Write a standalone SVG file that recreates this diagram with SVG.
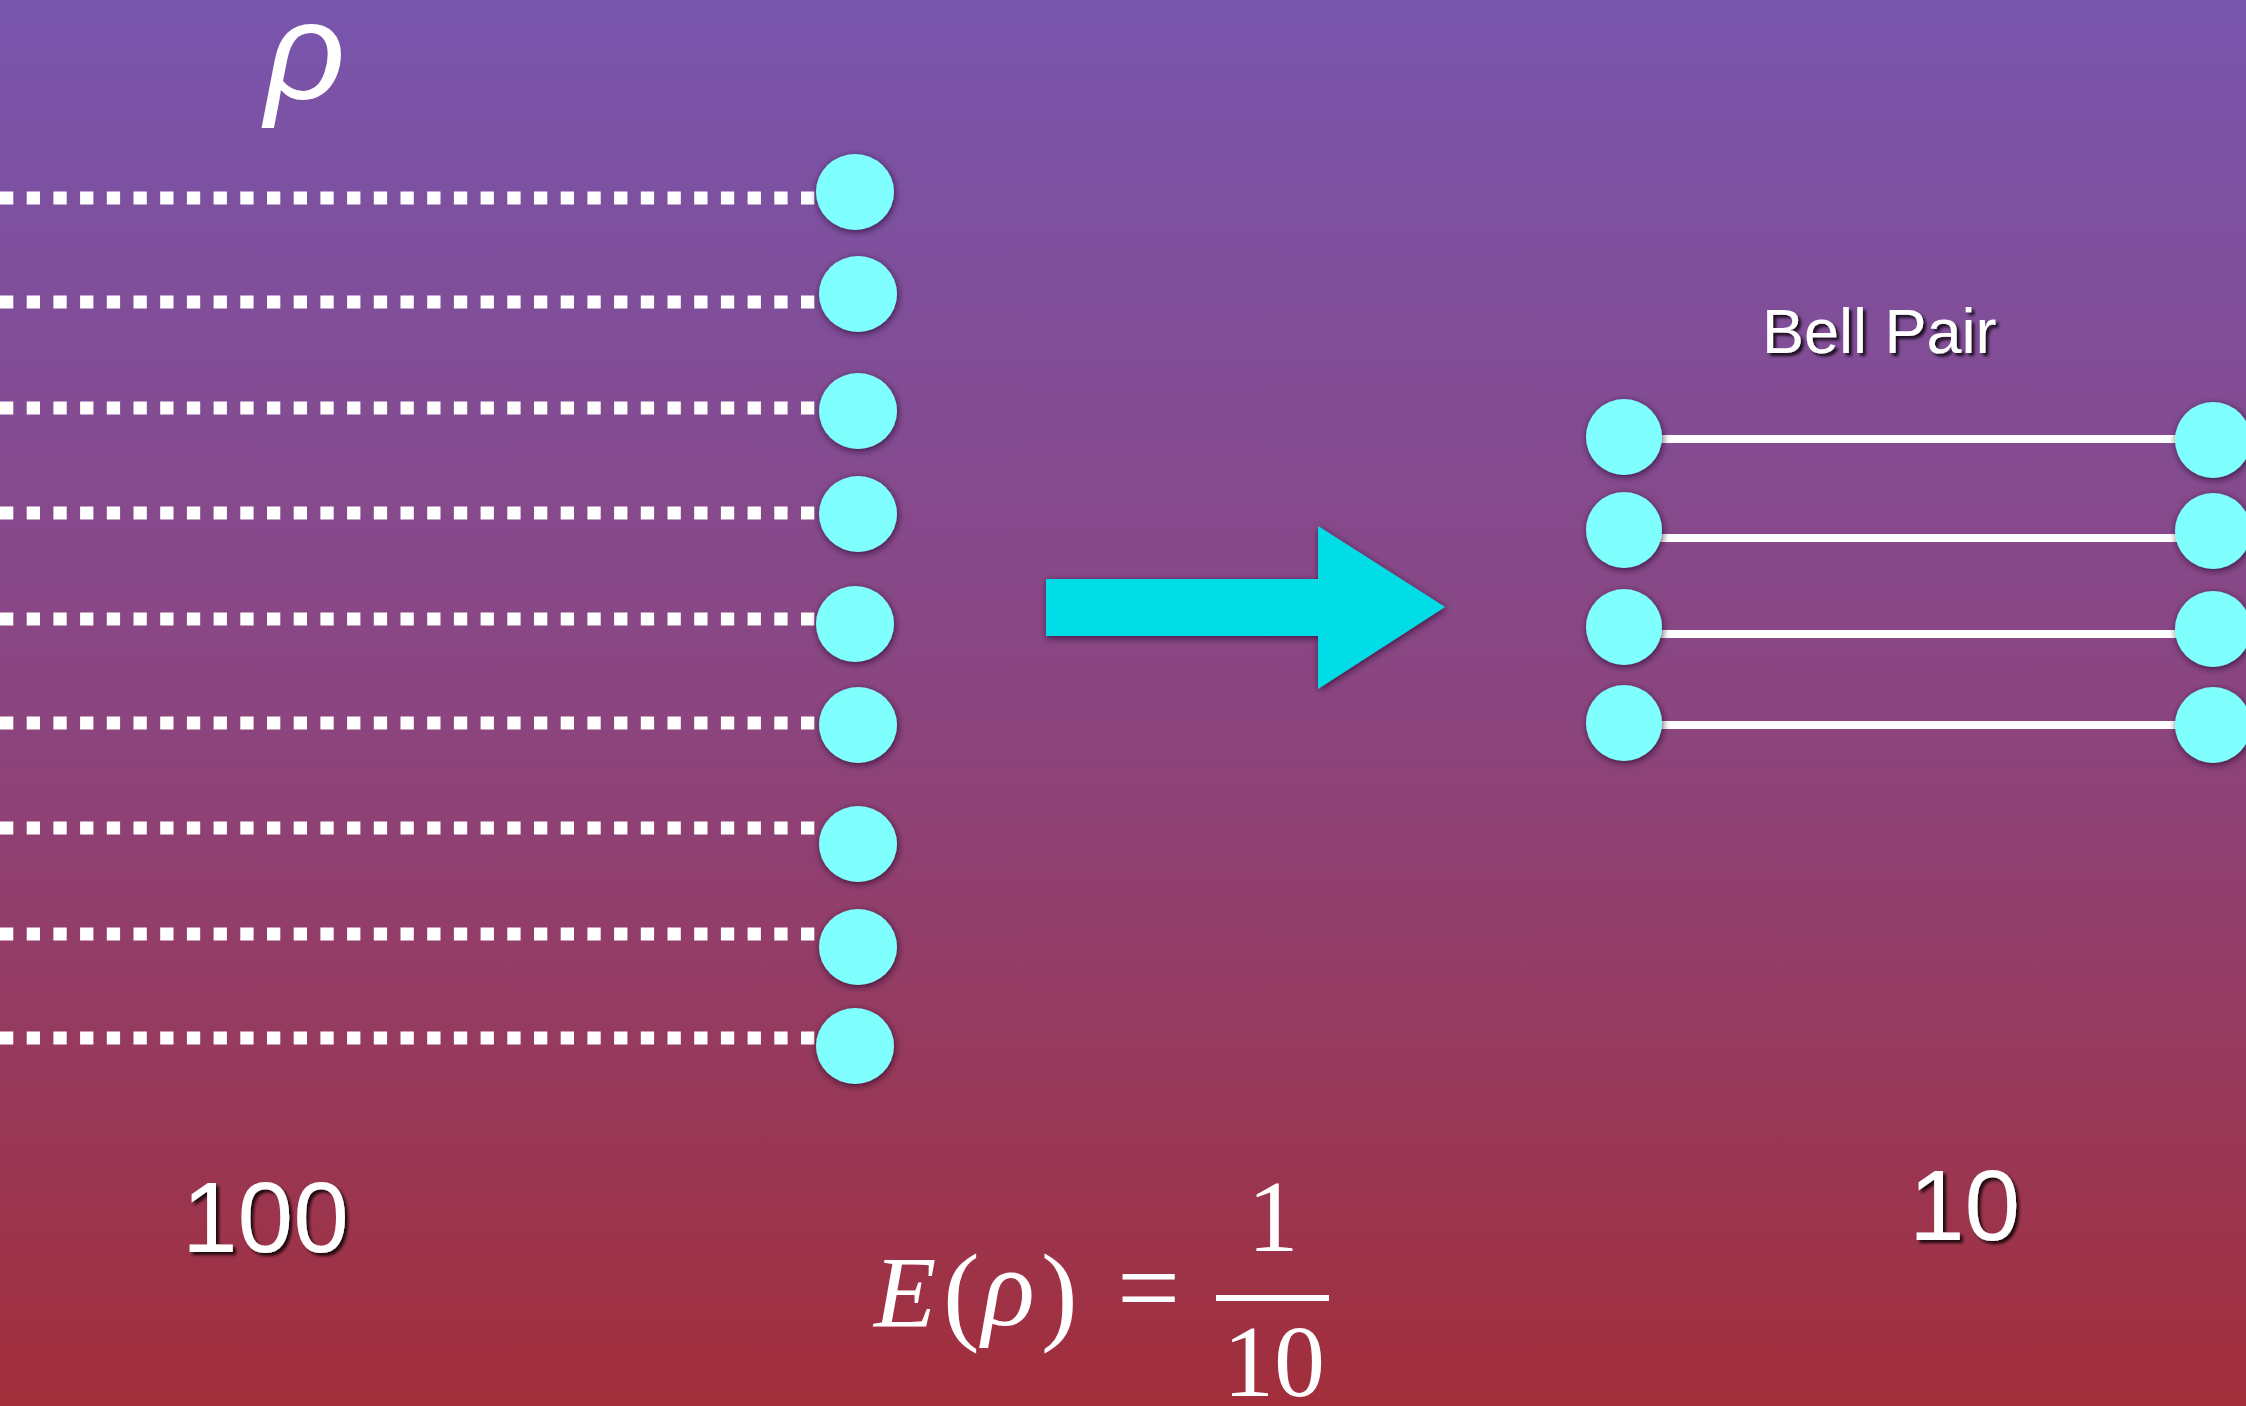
<svg xmlns="http://www.w3.org/2000/svg" width="2246" height="1406" viewBox="0 0 2246 1406">
<defs>
<linearGradient id="bg" x1="0" y1="0" x2="0" y2="1">
<stop offset="0" stop-color="#7855AD"/>
<stop offset="0.5" stop-color="#8B4580"/>
<stop offset="1" stop-color="#A22E3A"/>
</linearGradient>
<filter id="sh" x="-30%" y="-30%" width="160%" height="160%">
<feDropShadow dx="1" dy="2" stdDeviation="3.5" flood-color="#1a0020" flood-opacity="0.7"/>
</filter>
<filter id="tsh" x="-10%" y="-10%" width="120%" height="130%">
<feDropShadow dx="3" dy="3" stdDeviation="1.5" flood-color="#000" flood-opacity="0.8"/>
</filter>
</defs>
<style>
.dot{fill:#80FFFF;filter:url(#sh)}
.dash{stroke:#FFFFFF;stroke-width:13;stroke-dasharray:13.3 13.4;fill:none}
.bell{stroke:#FFFFFF;stroke-width:8;fill:none}
.lbl{fill:#FFFFFF;font-family:"Liberation Sans",Arial,sans-serif;filter:url(#tsh)}
.math{fill:#FFFFFF;font-family:"Liberation Serif","Times New Roman",serif}
</style>
<rect x="0" y="0" width="2246" height="1406" fill="url(#bg)"/>

<text id="rho-label" x="265" y="99" font-family="Liberation Sans, Arial, sans-serif" font-style="italic" font-size="140" fill="#FFFFFF">ρ</text>

<g id="connectors">
<line class="dash" x1="0" y1="198" x2="815" y2="198"/>
<line class="dash" x1="0" y1="302" x2="815" y2="302"/>
<line class="dash" x1="0" y1="408" x2="815" y2="408"/>
<line class="dash" x1="0" y1="513" x2="815" y2="513"/>
<line class="dash" x1="0" y1="619" x2="815" y2="619"/>
<line class="dash" x1="0" y1="723" x2="815" y2="723"/>
<line class="dash" x1="0" y1="828" x2="815" y2="828"/>
<line class="dash" x1="0" y1="934" x2="815" y2="934"/>
<line class="dash" x1="0" y1="1038" x2="815" y2="1038"/>
<line class="bell" x1="1640" y1="439" x2="2200" y2="439"/>
<line class="bell" x1="1640" y1="538" x2="2200" y2="538"/>
<line class="bell" x1="1640" y1="634" x2="2200" y2="634"/>
<line class="bell" x1="1640" y1="725" x2="2200" y2="725"/>
</g>

<g id="left-qubits">
<g id="q1"><ellipse class="dot" cx="855" cy="192" rx="39" ry="38"/></g>
<g id="q2"><ellipse class="dot" cx="858" cy="294" rx="39" ry="38"/></g>
<g id="q3"><ellipse class="dot" cx="858" cy="411" rx="39" ry="38"/></g>
<g id="q4"><ellipse class="dot" cx="858" cy="514" rx="39" ry="38"/></g>
<g id="q5"><ellipse class="dot" cx="855" cy="624" rx="39" ry="38"/></g>
<g id="q6"><ellipse class="dot" cx="858" cy="725" rx="39" ry="38"/></g>
<g id="q7"><ellipse class="dot" cx="858" cy="844" rx="39" ry="38"/></g>
<g id="q8"><ellipse class="dot" cx="858" cy="947" rx="39" ry="38"/></g>
<g id="q9"><ellipse class="dot" cx="855" cy="1046" rx="39" ry="38"/></g>
</g>

<g id="arrow">
<polygon points="1046,579 1318,579 1318,526 1445,607 1318,689 1318,636 1046,636" fill="#00DDE6" filter="url(#sh)"/>
</g>

<g id="bell-pairs">
<g id="b1a"><ellipse class="dot" cx="1624" cy="437" rx="38" ry="38"/></g>
<g id="b1b"><ellipse class="dot" cx="2213" cy="440" rx="38" ry="38"/></g>
<g id="b2a"><ellipse class="dot" cx="1624" cy="530" rx="38" ry="38"/></g>
<g id="b2b"><ellipse class="dot" cx="2213" cy="531" rx="38" ry="38"/></g>
<g id="b3a"><ellipse class="dot" cx="1624" cy="627" rx="38" ry="38"/></g>
<g id="b3b"><ellipse class="dot" cx="2213" cy="629" rx="38" ry="38"/></g>
<g id="b4a"><ellipse class="dot" cx="1624" cy="723" rx="38" ry="38"/></g>
<g id="b4b"><ellipse class="dot" cx="2213" cy="725" rx="38" ry="38"/></g>
</g>

<text id="bell-label" class="lbl" x="1762" y="353" font-size="63">Bell Pair</text>
<text id="count-100" class="lbl" x="182" y="1252" font-size="100">100</text>
<text id="count-10" class="lbl" x="1909" y="1240" font-size="100">10</text>

<g id="equation">
<text class="math" x="874" y="1327" font-size="102" font-style="italic">E</text>
<text class="math" x="943" y="1330" font-size="110">(</text>
<text class="math" x="982" y="1325" font-size="110" font-style="italic">ρ</text>
<text class="math" x="1041" y="1330" font-size="110">)</text>
<text class="math" x="1117" y="1325" font-size="112">=</text>
<rect x="1216" y="1295" width="113" height="6" fill="#FFFFFF"/>
<text class="math" x="1273" y="1251" font-size="102" text-anchor="middle">1</text>
<text class="math" x="1274" y="1396" font-size="102" text-anchor="middle">10</text>
</g>
</svg>
